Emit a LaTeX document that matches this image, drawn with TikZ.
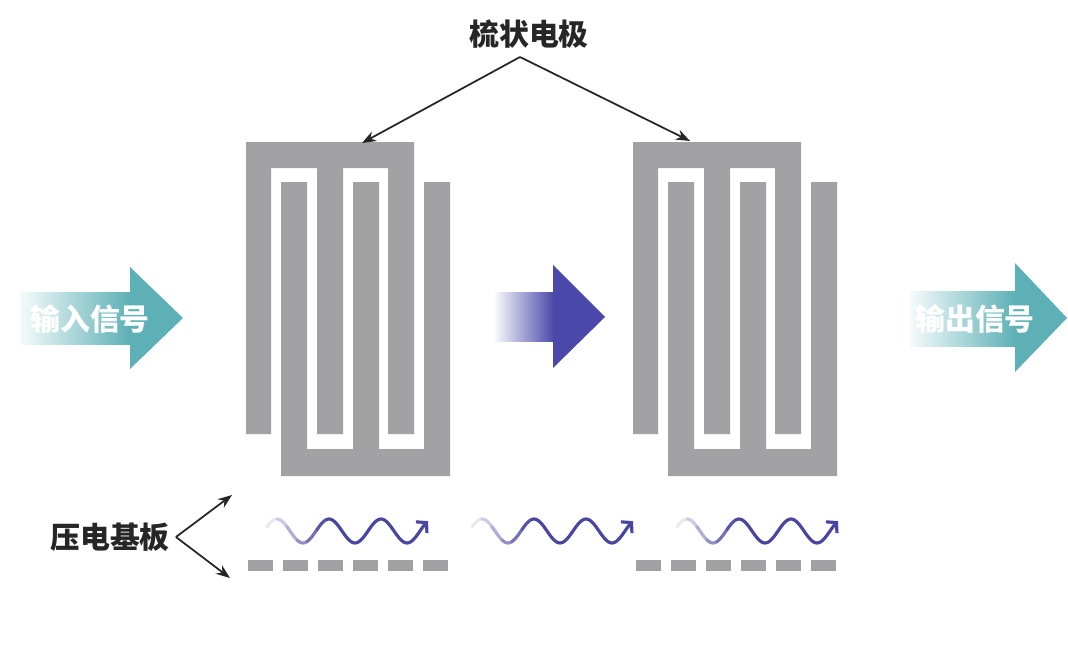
\documentclass[tikz,border=0pt]{standalone}
\usepackage{fontspec}
\setmainfont{Noto Sans CJK SC}
\usepackage{tikz}
\usetikzlibrary{arrows.meta}

\definecolor{combgray}{RGB}{162,162,164}
\definecolor{sigteal}{RGB}{92,176,182}
\definecolor{flowblue}{RGB}{74,72,168}
\definecolor{wavecol}{RGB}{72,70,162}

\tikzset{
    label text/.style={font=\fontsize{17}{20}\selectfont\bfseries, text=black!85},
    signal text/.style={font=\fontsize{17}{20}\selectfont\bfseries, text=white},
    pointer/.style={-{Stealth[length=8pt, width=6pt]}, line width=1pt, black!85},
    wave/.style={line width=1.8pt, line cap=round},
}

\begin{document}
\begin{tikzpicture}[x=0.02cm, y=-0.02cm]
        \useasboundingbox (0, 0) rectangle (1068, 652);

        % comb electrodes
        \foreach \dx in {0, 387}
        {
            \fill [combgray, shift={(\dx, 0)}] (246, 142) -- (414, 142) -- (414, 434) -- (388, 434) -- (388, 168)
                -- (343, 168) -- (343, 434) -- (317, 434) -- (317, 168) -- (271, 168) -- (271, 434) -- (246, 434) -- cycle;
            \fill [combgray, shift={(\dx, 0)}] (281, 476) -- (450, 476) -- (450, 182) -- (424, 182) -- (424, 449)
                -- (379, 449) -- (379, 182) -- (353, 182) -- (353, 449) -- (307, 449) -- (307, 182) -- (281, 182) -- cycle;
        }

        % substrate
        \foreach \dx in {248, 636}
        {
            \foreach \k in {0,...,5}
            {
                \fill [combgray] (\dx + \k*35, 560) rectangle ++(25, 11);
            }
        }

        % signal arrows
        \shade [left color=sigteal!6, right color=sigteal] (20, 292) rectangle (131, 344);
        \fill [sigteal] (130, 267) -- (183, 318) -- (130, 369) -- cycle;
        \shade [left color=sigteal!6, right color=sigteal] (910, 291) rectangle (1016, 346);
        \fill [sigteal] (1015, 263) -- (1067, 318) -- (1015, 372) -- cycle;
        \node [signal text] (in) at (90, 319) {输入信号};
        \node [signal text] (out) at (975, 319) {输出信号};

        \shade [left color=flowblue!4, right color=flowblue] (495, 292) rectangle (554, 341);
        \fill [flowblue] (553, 265) -- (605, 317) -- (553, 368) -- cycle;

        % surface waves
        \foreach \w in {267, 472, 677}
        {
            \foreach \i in {0,...,14}
            {
                \pgfmathtruncatemacro{\pc}{min(100, 12 + \i*16)}
                \draw [wave, wavecol!\pc!white] plot [domain={\w + \i*10}:{\w + \i*10 + 10}, samples=6]
                    (\x, {531 + 12*cos(6.9231*(\x - \w - 36))});
            }
            \draw [wave, wavecol, -{Straight Barb[length=4pt, width=9pt]}] plot [domain={\w + 150}:{\w + 161}, samples=6]
                (\x, {531 + 12*cos(6.9231*(\x - \w - 36))});
        }

        % labels
        \node [label text] (comb) at (529, 34) {梳状电极};
        \coordinate (apex) at (520, 57);
        \coordinate (combL) at (362, 143);
        \coordinate (combR) at (690, 141);
        \draw [pointer] (apex) -- (combL);
        \draw [pointer] (apex) -- (combR);

        \node [label text] (sub) at (110, 537) {压电基板};
        \coordinate (subUp) at (232, 495);
        \coordinate (subDown) at (230, 578);
        \draw [pointer] (sub.east) -- (subUp);
        \draw [pointer] (sub.east) -- (subDown);
    \end{tikzpicture}
\end{document}
